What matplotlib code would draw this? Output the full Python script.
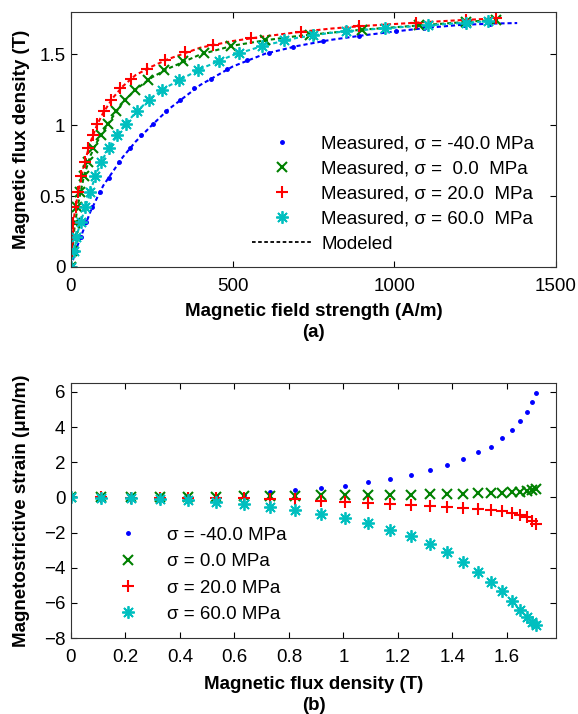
import numpy as np
import matplotlib.pyplot as plt
from matplotlib.lines import Line2D

plt.rcParams['font.family'] = ['Liberation Sans', 'DejaVu Sans']
plt.rcParams['font.size'] = 13.5

# (a) измеренные точки B(H) для четырех напряжений
H_m40 = [0, 14, 30, 48, 66, 90, 118, 148, 182, 218, 254, 294, 336, 382, 433, 484, 544, 613, 687, 778, 892, 1005, 1091, 1216, 1295]
B_m40 = [0, 0.11, 0.21, 0.32, 0.42, 0.53, 0.63, 0.74, 0.84, 0.93, 1.01, 1.10, 1.18, 1.26, 1.33, 1.40, 1.46, 1.514, 1.554, 1.594, 1.632, 1.664, 1.688, 1.711, 1.718]
H_0 = [0, 4, 7, 13, 20, 29, 40, 52, 69, 92, 116, 140, 167, 199, 237, 288, 346, 412, 496, 600, 740, 900, 1075, 1222, 1313]
B_0 = [0, 0.11, 0.21, 0.31, 0.42, 0.53, 0.64, 0.74, 0.84, 0.93, 1.01, 1.10, 1.18, 1.25, 1.32, 1.39, 1.455, 1.51, 1.56, 1.60, 1.64, 1.675, 1.705, 1.73, 1.745]
H_20 = [0, 3, 5, 7, 14, 23, 31, 42, 54, 67, 82, 102, 124, 153, 186, 234, 291, 354, 440, 557, 710, 892, 1068, 1222, 1313]
B_20 = [0, 0.11, 0.21, 0.31, 0.42, 0.53, 0.64, 0.74, 0.84, 0.93, 1.01, 1.10, 1.18, 1.26, 1.33, 1.40, 1.46, 1.52, 1.57, 1.615, 1.66, 1.70, 1.725, 1.745, 1.755]
H_60 = [0, 10, 17, 31, 44, 59, 75, 93, 117, 141, 170, 204, 240, 283, 333, 392, 457, 520, 590, 660, 750, 852, 971, 1103, 1222, 1290]
B_60 = [0, 0.11, 0.21, 0.32, 0.42, 0.53, 0.64, 0.74, 0.84, 0.93, 1.01, 1.10, 1.18, 1.25, 1.32, 1.39, 1.455, 1.51, 1.56, 1.60, 1.64, 1.665, 1.685, 1.705, 1.725, 1.735]

# модельные кривые
H_mod = [0, 10, 20, 40, 60, 80, 100, 130, 160, 200, 250, 300, 400, 500, 600, 700, 800, 900, 1000, 1100, 1200, 1300, 1380]
Bmod_m40 = [0, 0.08, 0.15, 0.27, 0.39, 0.485, 0.575, 0.675, 0.775, 0.885, 1.00, 1.11, 1.285, 1.415, 1.505, 1.56, 1.602, 1.634, 1.662, 1.688, 1.708, 1.718, 1.722]
Bmod_0 = [0, 0.26, 0.42, 0.64, 0.785, 0.88, 0.955, 1.063, 1.16, 1.252, 1.338, 1.40, 1.50, 1.562, 1.60, 1.63, 1.653, 1.675, 1.692, 1.709, 1.726, 1.743, 1.75]
Bmod_20 = [0, 0.36, 0.50, 0.72, 0.88, 1.00, 1.09, 1.195, 1.275, 1.355, 1.415, 1.467, 1.548, 1.595, 1.628, 1.657, 1.682, 1.701, 1.715, 1.729, 1.742, 1.753, 1.758]
Bmod_60 = [0, 0.11, 0.24, 0.39, 0.535, 0.67, 0.77, 0.885, 0.985, 1.09, 1.198, 1.275, 1.398, 1.495, 1.565, 1.618, 1.652, 1.673, 1.69, 1.705, 1.721, 1.736, 1.742]

# (b) магнитострикция
B_s = [0, 0.11, 0.22, 0.325, 0.43, 0.533, 0.634, 0.73, 0.822, 0.918, 1.004, 1.09, 1.171, 1.249, 1.317, 1.379, 1.44, 1.495, 1.54, 1.582, 1.617, 1.647, 1.675, 1.693, 1.705]
L_m40 = [0, 0.0, 0.01, 0.02, 0.04, 0.08, 0.15, 0.28, 0.42, 0.53, 0.66, 0.85, 1.04, 1.29, 1.55, 1.86, 2.18, 2.56, 2.88, 3.37, 3.83, 4.32, 4.83, 5.4, 5.93]
L_0 = [0, 0, 0, 0.01, 0.02, 0.03, 0.05, 0.08, 0.1, 0.12, 0.13, 0.14, 0.15, 0.16, 0.17, 0.18, 0.2, 0.22, 0.24, 0.27, 0.3, 0.33, 0.37, 0.41, 0.45]
L_20 = [0, 0, -0.01, -0.01, -0.02, -0.03, -0.05, -0.08, -0.12, -0.18, -0.24, -0.3, -0.36, -0.41, -0.47, -0.53, -0.59, -0.65, -0.71, -0.79, -0.88, -1.0, -1.14, -1.32, -1.5]
L_60 = [0, -0.02, -0.05, -0.09, -0.15, -0.25, -0.37, -0.52, -0.7, -0.92, -1.17, -1.47, -1.84, -2.22, -2.65, -3.12, -3.66, -4.22, -4.8, -5.35, -5.88, -6.38, -6.82, -7.1, -7.25]

blue = (0, 0, 1)
green = (0, 0.5, 0)
red = (1, 0, 0)
cyan = (0, 0.75, 0.75)
ast = (8, 2, 0)

fig = plt.figure(figsize=(5.78, 7.14), dpi=100)
ax1 = fig.add_axes([0.1228, 0.6261, 0.8391, 0.3571])
ax2 = fig.add_axes([0.1228, 0.1064, 0.8391, 0.3571])

dash = dict(ls='--', lw=1.5, dashes=(2, 1.4))
ax1.plot(H_mod, Bmod_m40, color=blue, **dash)
ax1.plot(H_mod[:-1], Bmod_0[:-1], color=green, **dash)
ax1.plot(H_mod[:-1], Bmod_20[:-1], color=red, **dash)
ax1.plot(H_mod[:-1], Bmod_60[:-1], color=cyan, **dash)

p1, = ax1.plot(H_m40, B_m40, ls='none', marker='.', ms=5, color=blue)
p2, = ax1.plot(H_0, B_0, ls='none', marker='x', ms=7, mew=1.5, color=green)
p3, = ax1.plot(H_20, B_20, ls='none', marker='+', ms=9, mew=1.5, color=red)
p4, = ax1.plot(H_60, B_60, ls='none', marker=ast, ms=9, mew=1.3, color=cyan, mec=cyan)
lm = Line2D([], [], color='k', ls='--', lw=1.3, dashes=(2, 1.4))

ax1.legend([p1, p2, p3, p4, lm],
           ['Measured, σ = -40.0 MPa', 'Measured, σ =  0.0  MPa',
            'Measured, σ = 20.0  MPa', 'Measured, σ = 60.0  MPa', 'Modeled'],
           loc='upper left', bbox_to_anchor=(0.373, 0.517), frameon=False,
           borderpad=0, borderaxespad=0, handlelength=3.25, handletextpad=0.45,
           labelspacing=0.43, numpoints=1)

ax1.set_xlim(0, 1500)
ax1.set_ylim(0, 1.8)
ax1.set_xticks([0, 500, 1000, 1500])
ax1.set_yticks([0, 0.5, 1, 1.5])
ax1.set_yticklabels(['0', '0.5', '1', '1.5'])
ax1.set_xlabel('Magnetic field strength (A/m)\n(a)', fontweight='bold', linespacing=1.3)
ax1.set_ylabel('Magnetic flux density (T)', fontweight='bold')
ax1.xaxis.set_label_coords(0.5, -0.143)
ax1.yaxis.set_label_coords(-0.085, 0.5)

q1, = ax2.plot(B_s, L_m40, ls='none', marker='.', ms=5, color=blue)
q2, = ax2.plot(B_s, L_0, ls='none', marker='x', ms=7, mew=1.5, color=green)
q3, = ax2.plot(B_s, L_20, ls='none', marker='+', ms=9, mew=1.5, color=red)
q4, = ax2.plot(B_s, L_60, ls='none', marker=ast, ms=9, mew=1.3, color=cyan, mec=cyan)

ax2.legend([q1, q2, q3, q4],
           ['σ = -40.0 MPa', 'σ = 0.0 MPa', 'σ = 20.0 MPa', 'σ = 60.0 MPa'],
           loc='upper left', bbox_to_anchor=(0.055, 0.436), frameon=False,
           borderpad=0, borderaxespad=0, handlelength=3.25, handletextpad=0.45,
           labelspacing=0.49, numpoints=1)

ax2.set_xlim(0, 1.78)
ax2.set_ylim(-8, 6.5)
xt = [0, 0.2, 0.4, 0.6, 0.8, 1, 1.2, 1.4, 1.6]
ax2.set_xticks(xt)
ax2.set_xticklabels(['0', '0.2', '0.4', '0.6', '0.8', '1', '1.2', '1.4', '1.6'])
ax2.set_yticks([-8, -6, -4, -2, 0, 2, 4, 6])
ax2.set_xlabel('Magnetic flux density (T)\n(b)', fontweight='bold', linespacing=1.3)
ax2.set_ylabel('Magnetostrictive strain (μm/m)', fontweight='bold')
ax2.xaxis.set_label_coords(0.5, -0.148)
ax2.yaxis.set_label_coords(-0.085, 0.5)

for ax in (ax1, ax2):
    ax.tick_params(direction='in', top=True, right=True, length=4, width=0.8)
    ax.tick_params(axis='x', pad=8)
    ax.tick_params(axis='y', pad=4)
    for s in ax.spines.values():
        s.set_linewidth(0.8)
        s.set_color('#333333')

fig.savefig('out.png', dpi=100)
